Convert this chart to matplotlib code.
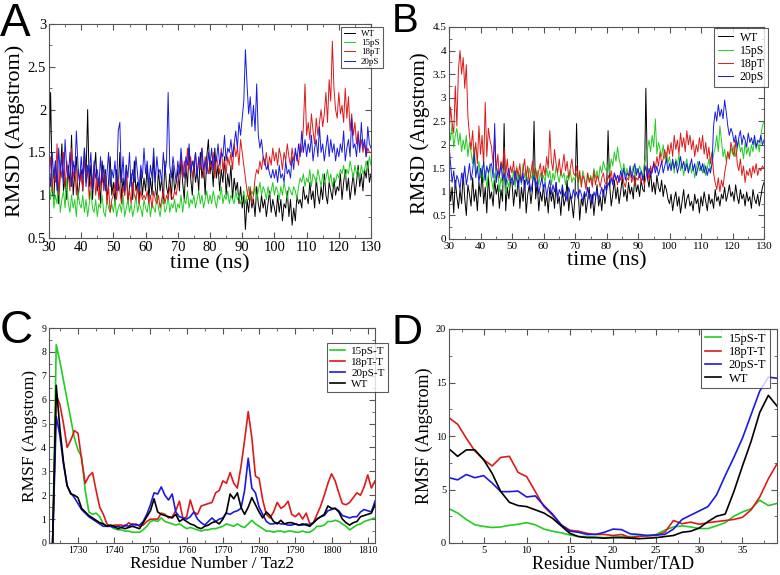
import numpy as np
import matplotlib.pyplot as plt
from matplotlib.ticker import MultipleLocator, FormatStrFormatter

# ---- panel A: RMSD vs time, Taz2 runs (0.5 ns sampling, 30..130 ns) ----
time_ns = np.arange(30, 130.25, 0.5)

a_wt = [1.30, 2.20, 1.05, 0.95, 1.40, 1.15, 0.90, 1.25, 1.60, 1.05, 1.20, 0.95, 1.35, 1.10, 1.70, 1.00, 1.25, 1.45, 0.95, 1.15,
        1.30, 1.05, 1.55, 1.20, 2.00, 1.10, 1.35, 0.95, 1.25, 1.50, 1.05, 1.20, 0.90, 1.40, 1.10, 1.30, 0.95, 1.15, 1.45, 1.00,
        1.15, 0.90, 1.30, 1.05, 1.50, 0.95, 1.20, 1.00, 1.35, 0.90, 1.10, 1.25, 0.95, 1.40, 1.05, 1.15, 0.90, 1.30, 1.00, 1.20,
        1.05, 1.35, 0.95, 1.20, 1.00, 1.45, 1.10, 0.95, 1.30, 1.05, 1.20, 0.90, 1.40, 1.10, 1.00, 1.25, 0.95, 1.35, 1.05, 1.15,
        1.30, 1.05, 1.45, 1.15, 0.95, 1.35, 1.10, 1.55, 1.20, 1.00, 1.40, 1.15, 1.30, 1.05, 1.50, 1.20, 1.35, 1.00, 1.45, 1.65,
        1.25, 1.40, 1.10, 1.55, 1.20, 1.35, 1.05, 1.30, 1.15, 1.45, 1.00, 1.25, 1.10, 1.35, 0.95, 1.20, 1.05, 1.15, 0.90, 1.10,
        0.85, 1.00, 0.60, 0.95, 0.80, 1.05, 0.85, 0.95, 0.75, 1.10, 0.90, 0.80, 1.00, 0.85, 0.95, 0.75, 0.90, 1.05, 0.80, 0.95,
        0.85, 0.75, 1.00, 0.80, 0.95, 0.70, 0.90, 0.85, 1.05, 0.75, 0.95, 0.65, 0.85, 0.70, 1.00, 0.90, 0.95, 0.85, 1.10, 0.95,
        1.00, 0.90, 1.15, 0.95, 1.05, 0.85, 1.20, 1.00, 0.90, 1.10, 0.95, 1.25, 1.00, 0.90, 1.15, 1.05, 0.95, 1.20, 1.00, 1.10,
        1.05, 1.25, 0.95, 1.15, 1.30, 1.05, 1.20, 0.95, 1.10, 1.25, 1.00, 1.15, 1.35, 1.10, 1.25, 1.05, 1.30, 1.20, 1.40, 1.15,
        1.25]
a_15ps = [1.10, 0.95, 1.25, 0.85, 1.00, 0.90, 1.15, 0.80, 0.95, 1.05, 0.85, 1.20, 0.90, 0.80, 1.00, 0.85, 0.95, 0.75, 1.05, 0.90,
          0.85, 1.00, 0.80, 0.95, 0.75, 0.90, 1.05, 0.85, 0.80, 0.95, 0.75, 0.90, 0.85, 1.00, 0.80, 0.75, 0.95, 0.85, 0.80, 0.90,
          0.80, 0.95, 0.75, 0.85, 0.90, 0.80, 1.00, 0.75, 0.85, 0.95, 0.80, 0.90, 0.75, 0.85, 1.00, 0.80, 0.90, 0.85, 0.75, 0.95,
          0.85, 0.80, 0.95, 0.75, 0.90, 0.85, 0.80, 1.00, 0.85, 0.75, 0.90, 0.95, 0.80, 0.85, 1.00, 0.80, 0.90, 0.85, 0.95, 0.80,
          0.90, 0.85, 1.00, 0.80, 0.95, 0.90, 1.05, 0.85, 0.95, 0.90, 1.00, 0.85, 0.95, 1.05, 0.90, 1.00, 0.85, 0.95, 1.05, 0.90,
          1.00, 0.90, 1.05, 0.95, 0.85, 1.00, 0.95, 1.10, 0.90, 1.00, 0.95, 1.05, 0.90, 1.00, 0.95, 0.90, 1.05, 0.95, 1.00, 0.90,
          0.95, 1.05, 0.90, 1.00, 1.10, 0.95, 1.05, 1.00, 1.10, 0.95, 1.05, 1.15, 1.00, 1.10, 1.05, 0.95, 1.10, 1.00, 1.05, 1.15,
          1.00, 1.10, 1.05, 0.95, 1.10, 1.00, 1.15, 1.05, 0.95, 1.10, 1.05, 1.00, 1.10, 1.05, 0.95, 1.10, 1.20, 1.15, 1.25, 1.10,
          1.20, 1.15, 1.30, 1.10, 1.25, 1.20, 1.15, 1.30, 1.20, 1.10, 1.25, 1.15, 1.20, 1.30, 1.15, 1.25, 1.10, 1.20, 1.15, 1.25,
          1.20, 1.30, 1.25, 1.35, 1.20, 1.30, 1.25, 1.40, 1.30, 1.20, 1.35, 1.25, 1.30, 1.20, 1.35, 1.25, 1.30, 1.40, 1.30, 1.45,
          1.35]
a_18pt = [1.20, 1.45, 1.05, 1.30, 1.15, 1.60, 1.00, 1.35, 1.20, 1.50, 1.10, 1.40, 1.25, 1.05, 1.55, 1.20, 1.35, 1.00, 1.30, 1.15,
          1.25, 1.05, 1.45, 1.15, 1.30, 0.95, 1.20, 1.10, 1.35, 1.00, 1.20, 0.95, 1.15, 1.30, 1.05, 1.25, 0.90, 1.10, 0.80, 0.95,
          1.00, 1.15, 0.95, 1.20, 1.05, 0.90, 1.10, 1.00, 1.25, 0.95, 1.05, 0.90, 1.15, 1.00, 0.95, 1.10, 0.90, 1.05, 0.95, 1.00,
          0.95, 1.05, 0.90, 1.00, 0.85, 1.05, 0.95, 0.90, 1.00, 0.85, 0.95, 1.05, 0.90, 1.00, 0.95, 1.10, 1.00, 0.95, 1.05, 1.00,
          1.15, 1.30, 1.45, 1.20, 1.40, 1.25, 1.55, 1.30, 1.45, 1.20, 1.35, 1.50, 1.25, 1.40, 1.30, 1.55, 1.20, 1.45, 1.35, 1.25,
          1.40, 1.30, 1.50, 1.20, 1.45, 1.35, 1.25, 1.55, 1.30, 1.40, 1.25, 1.45, 1.35, 1.50, 1.30, 1.60, 1.45, 1.55, 1.35, 1.65,
          1.50, 1.35, 1.20, 1.05, 0.95, 1.10, 0.90, 1.00, 1.20, 1.30, 1.25, 1.40, 1.30, 1.45, 1.35, 1.50, 1.30, 1.45, 1.35, 1.55,
          1.40, 1.50, 1.35, 1.55, 1.45, 1.30, 1.50, 1.40, 1.60, 1.45, 1.35, 1.55, 1.40, 1.50, 1.45, 1.35, 1.60, 1.50, 1.80, 2.30,
          1.70, 1.85, 1.65, 1.95, 1.75, 1.60, 1.90, 1.70, 1.85, 2.00, 1.80, 1.95, 2.20, 1.85, 2.35, 2.10, 2.80, 2.25, 2.00, 1.90,
          2.20, 1.95, 2.05, 1.85, 2.25, 1.90, 2.15, 1.75, 1.95, 1.70, 1.85, 1.60, 1.75, 1.55, 1.65, 1.50, 1.60, 1.45, 1.55, 1.50,
          1.50]
a_20ps = [1.35, 1.10, 1.50, 1.20, 1.40, 1.05, 1.55, 1.25, 1.45, 1.15, 1.65, 1.30, 1.20, 1.50, 1.10, 1.40, 1.25, 1.75, 1.35, 1.15,
          1.45, 1.20, 1.55, 1.10, 1.35, 1.25, 1.50, 1.05, 1.40, 1.20, 1.30, 1.10, 1.45, 1.15, 1.35, 1.05, 1.25, 1.50, 1.10, 1.30,
          1.20, 1.40, 1.05, 1.75, 1.85, 1.15, 1.45, 1.05, 1.35, 1.20, 1.50, 1.10, 1.30, 1.15, 1.45, 1.25, 1.05, 1.35, 1.20, 1.55,
          1.25, 1.40, 1.10, 1.35, 1.20, 1.55, 1.15, 1.45, 1.25, 1.30, 1.15, 1.50, 1.25, 1.40, 2.20, 1.35, 1.20, 1.45, 1.30, 1.15,
          1.40, 1.25, 1.55, 1.30, 1.20, 1.45, 1.35, 1.60, 1.25, 1.40, 1.30, 1.50, 1.20, 1.45, 1.35, 1.55, 1.30, 1.40, 1.25, 1.50,
          1.35, 1.55, 1.30, 1.45, 1.40, 1.60, 1.35, 1.50, 1.45, 1.70, 1.40, 1.55, 1.50, 1.65, 1.45, 1.60, 1.75, 1.55, 1.85, 1.70,
          1.90, 2.10, 2.70, 2.30, 1.95, 2.15, 1.80, 2.05, 1.75, 2.30, 1.70, 1.55, 1.65, 1.45, 1.40, 1.30, 1.35, 1.25, 1.20, 1.30,
          1.20, 1.30, 1.15, 1.35, 1.20, 1.25, 1.15, 1.40, 1.25, 1.30, 1.20, 1.45, 1.30, 1.55, 1.40, 1.60, 1.45, 1.75, 1.50, 1.65,
          1.45, 1.60, 1.50, 1.70, 1.40, 1.55, 1.65, 1.45, 1.80, 1.50, 1.60, 1.40, 1.55, 1.70, 1.45, 1.65, 1.50, 1.60, 1.40, 1.55,
          1.45, 1.60, 1.50, 1.75, 1.40, 1.55, 1.65, 1.45, 1.90, 1.55, 1.60, 1.45, 1.70, 1.50, 1.85, 1.55, 1.65, 1.45, 1.80, 1.60,
          1.55]

# ---- panel B: RMSD vs time, TAD runs ----
b_wt = [1.30, 0.80, 1.10, 0.55, 1.25, 0.90, 0.65, 1.05, 0.75, 1.40, 0.85, 0.50, 1.15, 0.95, 0.70, 1.30, 0.80, 1.05, 0.60, 1.20,
        0.90, 1.45, 0.75, 1.10, 0.55, 1.35, 0.85, 1.00, 0.70, 1.25, 0.95, 1.15, 0.65, 1.05, 0.80, 2.45, 0.60, 1.10, 0.85, 1.20,
        1.20, 0.70, 1.05, 0.90, 1.35, 0.65, 1.10, 0.80, 1.25, 0.55, 0.95, 1.15, 0.75, 1.05, 2.50, 0.85, 1.20, 0.60, 1.00, 0.80,
        1.15, 0.70, 0.95, 0.55, 1.10, 0.80, 1.00, 0.65, 1.20, 0.75, 0.90, 0.50, 1.05, 0.70, 0.85, 1.25, 0.60, 0.95, 0.75, 0.45,
        0.90, 2.45, 1.05, 0.40, 0.85, 0.70, 1.00, 0.55, 0.80, 1.10, 0.65, 0.95, 0.50, 0.85, 1.15, 0.70, 0.90, 0.60, 1.05, 0.75,
        1.00, 2.30, 1.15, 0.70, 0.95, 1.25, 0.85, 1.10, 0.75, 1.00, 1.30, 0.90, 1.05, 0.80, 1.20, 0.95, 1.10, 0.85, 1.35, 1.00,
        1.15, 0.90, 1.25, 1.05, 1.00, 3.20, 1.30, 1.10, 1.45, 1.00, 1.20, 0.95, 1.35, 1.10, 1.00, 1.25, 0.90, 1.15, 1.05, 0.85,
        0.75, 0.95, 0.60, 0.85, 1.00, 0.70, 0.90, 0.55, 0.80, 1.05, 0.65, 0.85, 0.95, 0.70, 0.80, 0.60, 0.95, 0.75, 0.85, 0.55,
        0.90, 0.70, 1.00, 0.80, 0.60, 0.95, 0.75, 0.85, 0.65, 1.05, 0.80, 0.90, 0.70, 0.95, 0.85, 1.10, 0.80, 0.95, 1.15, 0.90,
        1.00, 0.80, 1.15, 0.90, 0.75, 1.05, 0.85, 0.95, 0.70, 1.00, 0.80, 0.90, 0.65, 1.05, 0.85, 0.75, 0.95, 0.70, 0.90, 1.10,
        1.20]
b_15ps = [2.30, 2.10, 2.45, 1.95, 2.20, 2.35, 2.00, 2.25, 1.85, 2.10, 1.90, 2.20, 1.75, 2.05, 1.85, 1.60, 1.95, 1.50, 1.40, 1.65,
          1.30, 1.55, 1.20, 1.45, 1.10, 1.35, 1.60, 1.25, 1.05, 1.40, 1.20, 1.50, 1.00, 1.30, 1.15, 1.45, 0.95, 1.25, 1.10, 1.35,
          1.20, 1.45, 1.10, 1.55, 1.25, 1.40, 1.15, 1.60, 1.30, 1.45, 1.20, 1.50, 1.35, 1.25, 1.55, 1.30, 1.45, 1.15, 1.40, 1.25,
          1.35, 1.20, 1.50, 1.30, 1.45, 1.15, 1.40, 1.25, 1.55, 1.35, 1.20, 1.45, 1.30, 1.40, 1.15, 1.35, 1.25, 1.45, 1.20, 1.30,
          1.25, 1.40, 1.15, 1.35, 1.20, 1.45, 1.30, 1.10, 1.40, 1.25, 1.35, 1.20, 1.50, 1.30, 1.45, 1.25, 1.55, 1.40, 1.65, 1.50,
          1.45, 1.60, 1.40, 1.70, 1.55, 1.85, 1.65, 1.95, 1.70, 1.55, 1.40, 1.60, 1.35, 1.50, 1.30, 1.45, 1.40, 1.55, 1.35, 1.50,
          1.40, 1.55, 1.45, 1.35, 1.60, 1.75, 1.90, 2.10, 1.85, 2.20, 1.95, 2.55, 1.80, 2.05, 1.90, 1.75, 2.00, 1.70, 1.85, 1.60,
          1.75, 1.50, 1.65, 1.40, 1.70, 1.55, 1.80, 1.45, 1.60, 1.35, 1.55, 1.70, 1.45, 1.60, 1.40, 1.55, 1.30, 1.50, 1.65, 1.45,
          1.55, 1.40, 1.60, 1.35, 1.50, 1.70, 1.45, 1.60, 1.80, 1.95, 2.20, 1.85, 2.40, 2.10, 1.75, 1.90, 1.65, 1.85, 1.70, 1.95,
          1.80, 2.00, 1.75, 1.90, 2.10, 1.85, 1.95, 1.70, 2.05, 1.80, 1.95, 1.75, 2.00, 1.85, 2.10, 1.90, 2.05, 1.85, 2.20, 2.40,
          2.50]
b_18pt = [2.20, 2.80, 2.45, 2.25, 3.25, 2.40, 3.60, 4.00, 3.50, 3.85, 3.20, 3.70, 2.60, 2.20, 1.90, 2.30, 1.70, 2.05, 1.60, 2.40,
          1.80, 2.20, 1.55, 2.90, 1.75, 2.35, 2.10, 1.95, 1.60, 2.15, 1.45, 1.80, 1.30, 1.65, 1.50, 1.95, 1.35, 1.70, 1.25, 1.55,
          1.40, 1.65, 1.25, 1.50, 1.35, 1.60, 1.20, 1.45, 1.70, 1.30, 1.55, 1.20, 1.40, 1.65, 1.35, 1.50, 1.25, 1.45, 1.60, 1.30,
          1.55, 1.35, 1.75, 1.50, 2.30, 1.65, 1.45, 1.90, 1.60, 1.40, 1.70, 1.35, 1.55, 1.80, 1.45, 1.65, 1.30, 1.50, 1.70, 1.40,
          1.35, 1.55, 1.20, 1.45, 1.10, 1.35, 1.25, 1.05, 1.40, 1.20, 1.30, 1.10, 1.45, 1.15, 1.35, 1.25, 1.10, 1.30, 1.40, 1.20,
          1.15, 1.35, 1.25, 1.45, 1.20, 1.40, 1.30, 1.15, 1.35, 1.25, 1.40, 1.20, 1.10, 1.30, 1.25, 1.45, 1.20, 1.35, 1.15, 1.30,
          1.25, 1.40, 1.20, 1.35, 1.15, 1.30, 1.45, 1.25, 1.55, 1.40, 1.65, 1.50, 1.75, 1.55, 1.85, 1.60, 1.70, 1.90, 1.65, 2.00,
          1.80, 2.05, 1.75, 2.20, 1.90, 2.10, 1.80, 2.25, 1.95, 2.15, 1.85, 2.30, 2.00, 2.20, 1.90, 2.10, 1.75, 2.00, 1.85, 2.15,
          1.90, 2.20, 1.80, 2.05, 1.70, 1.95, 1.60, 1.85, 1.40, 1.20, 1.05, 1.30, 1.00, 1.25, 1.10, 1.40, 1.60, 1.85, 1.70, 2.05,
          1.90, 1.75, 2.10, 1.60, 1.45, 1.70, 1.35, 1.55, 1.20, 1.45, 1.35, 1.50, 1.30, 1.55, 1.40, 1.60, 1.35, 1.50, 1.45, 1.55,
          1.50]
b_20ps = [2.00, 1.60, 1.20, 1.45, 1.10, 1.35, 1.25, 1.05, 1.40, 1.20, 1.55, 1.15, 1.35, 1.60, 1.25, 1.45, 1.80, 1.30, 1.55, 1.20,
          1.50, 1.35, 1.65, 1.25, 1.55, 1.40, 1.55, 1.60, 1.30, 2.45, 1.20, 1.45, 1.35, 1.60, 1.25, 1.40, 1.15, 1.35, 1.50, 1.20,
          1.30, 1.15, 1.45, 1.25, 1.10, 1.35, 1.20, 1.40, 1.05, 1.30, 1.15, 1.25, 1.00, 1.20, 1.35, 1.10, 1.25, 0.95, 1.15, 1.30,
          1.05, 1.20, 0.90, 1.10, 1.25, 0.95, 1.15, 1.00, 1.20, 0.85, 1.05, 0.95, 1.15, 0.90, 1.00, 0.80, 1.10, 0.95, 0.85, 1.05,
          0.90, 1.00, 0.85, 1.05, 0.95, 0.80, 1.00, 0.90, 1.10, 0.85, 0.95, 0.75, 1.00, 0.90, 1.05, 0.85, 0.95, 1.10, 0.90, 1.15,
          1.00, 1.20, 1.10, 1.30, 1.15, 1.40, 1.25, 1.35, 1.20, 1.45, 1.30, 1.50, 1.25, 1.40, 1.35, 1.55, 1.30, 1.45, 1.60, 1.35,
          1.50, 1.30, 1.45, 1.25, 1.40, 1.55, 1.30, 1.50, 1.35, 1.45, 1.60, 1.40, 1.55, 1.35, 1.50, 1.65, 1.40, 1.55, 1.70, 1.45,
          1.60, 1.45, 1.70, 1.50, 1.65, 1.40, 1.55, 1.75, 1.50, 1.65, 1.45, 1.60, 1.40, 1.55, 1.70, 1.45, 1.60, 1.35, 1.50, 1.65,
          1.45, 1.60, 1.40, 1.55, 1.35, 1.50, 1.40, 1.60, 2.40, 2.70, 2.50, 2.85, 2.60, 2.75, 2.55, 2.95, 2.70, 2.40, 2.20, 2.35,
          2.25, 2.05, 2.20, 1.95, 2.15, 2.30, 2.00, 2.20, 2.10, 1.95, 2.25, 2.05, 2.15, 2.00, 2.20, 1.95, 2.10, 2.05, 2.20, 2.00,
          2.10]

# ---- panel C: RMSF per residue, Taz2 ----
taz2_res = np.arange(1723, 1813)
c_15ps = [0.0, 8.3, 7.6, 6.8, 6.0, 5.2, 4.4, 3.9, 3.6, 2.2, 1.3, 1.2, 1.25, 1.1, 0.8, 0.7, 0.7, 0.6, 0.55, 0.55,
          0.5, 0.5, 0.45, 0.45, 0.45, 0.55, 0.7, 0.9, 0.95, 0.9, 1.05, 0.9, 0.85, 0.8, 0.75, 0.8, 0.7, 0.6, 0.65, 0.6,
          0.55, 0.5, 0.55, 0.55, 0.6, 0.6, 0.65, 0.7, 0.8, 0.75, 0.7, 0.8, 0.7, 0.65, 0.8, 0.95, 0.8, 0.7, 0.6, 0.5,
          0.5, 0.45, 0.5, 0.5, 0.45, 0.5, 0.5, 0.45, 0.45, 0.5, 0.45, 0.45, 0.55, 0.7, 0.7, 0.75, 0.9, 0.9, 0.95, 0.9,
          0.8, 0.7, 0.55, 0.65, 0.75, 0.8, 0.9, 0.95, 1.0, 1.05]
c_18pt = [0.0, 6.2, 5.8, 5.0, 4.0, 4.3, 4.7, 4.6, 3.5, 2.5, 2.8, 2.95, 2.2, 1.5, 1.2, 0.8, 0.7, 0.75, 0.75, 0.75,
          0.7, 0.85, 0.75, 0.8, 0.7, 0.75, 0.9, 1.0, 1.0, 1.0, 1.25, 1.2, 1.05, 1.1, 1.35, 1.75, 1.0, 1.1, 1.8, 1.3,
          1.2, 1.55, 1.6, 1.65, 1.7, 2.1, 2.2, 2.6, 2.5, 2.95, 2.5, 2.3, 3.2, 4.3, 5.5, 4.4, 2.8, 2.7, 1.8, 1.2,
          1.05, 1.3, 1.7, 1.45, 1.55, 1.75, 1.2, 1.1, 1.25, 1.0, 1.25, 0.8, 0.85, 1.2, 1.55, 2.0, 2.5, 2.9, 2.6, 2.1,
          1.65, 1.6, 1.7, 1.9, 2.1, 2.0, 2.35, 2.85, 2.3, 2.6]
c_20ps = [0.0, 5.3, 4.5, 3.3, 2.4, 2.1, 1.9, 1.65, 1.4, 1.25, 1.1, 1.0, 0.9, 0.8, 0.7, 0.7, 0.7, 0.65, 0.7, 0.65,
          0.75, 0.7, 0.8, 0.75, 0.75, 0.9, 1.2, 1.6, 2.1, 2.05, 2.35, 2.0, 1.8, 2.05, 1.3, 1.1, 1.05, 1.0, 1.1, 1.3,
          1.0, 0.85, 0.75, 0.9, 1.05, 0.9, 1.0, 1.05, 1.25, 1.2, 1.3, 1.35, 1.45, 2.2, 3.55, 2.3, 2.1, 1.5, 1.2, 0.9,
          0.8, 0.8, 0.85, 0.8, 0.8, 0.75, 0.75, 0.8, 0.75, 0.75, 0.8, 0.75, 0.85, 1.0, 1.1, 1.15, 1.35, 1.4, 1.45, 1.35,
          1.15, 1.1, 1.05, 1.1, 1.1, 1.3, 1.4, 1.35, 1.3, 1.75]
c_wt = [0.0, 6.6, 4.8, 3.4, 2.4, 2.05, 2.0, 1.9, 1.45, 1.3, 1.15, 1.05, 0.95, 0.85, 0.8, 0.7, 0.75, 0.7, 0.6, 0.65,
        0.6, 0.65, 0.7, 0.65, 0.6, 0.85, 1.1, 1.35, 1.85, 1.3, 1.2, 1.15, 1.1, 1.05, 1.2, 0.9, 1.0, 0.9, 0.8, 0.75,
        0.65, 0.6, 0.7, 0.75, 0.85, 0.9, 0.8, 1.0, 1.3, 2.05, 1.85, 2.1, 1.5, 1.2, 1.5, 1.9, 1.6, 1.3, 1.05, 1.3,
        1.15, 0.9, 0.8, 0.95, 0.8, 0.85, 0.85, 0.8, 0.75, 0.8, 0.75, 0.7, 0.85, 1.0, 1.1, 1.2, 1.55, 1.45, 1.45, 1.3,
        1.0, 0.85, 0.75, 0.85, 0.9, 1.1, 1.15, 1.2, 1.25, 1.6]

# ---- panel D: RMSF per residue, TAD ----
tad_res = np.arange(1, 40)
d_15ps = [3.2, 2.8, 2.2, 1.7, 1.55, 1.45, 1.5, 1.65, 1.75, 1.9, 1.7, 1.3, 1.1, 0.95, 0.75, 0.6, 0.6, 0.55, 0.5, 0.55,
          0.6, 0.6, 0.65, 0.65, 0.8, 1.2, 1.5, 1.6, 1.5, 1.35, 1.35, 1.6, 1.9, 2.5, 2.9, 3.2, 4.0, 3.5, 3.7]
d_18pt = [11.7, 11.1, 9.8, 8.6, 7.8, 7.2, 8.0, 8.1, 6.6, 6.2, 4.8, 3.4, 2.6, 1.7, 1.2, 1.1, 0.9, 0.8, 0.8, 0.7,
          0.8, 0.5, 0.6, 0.7, 0.7, 1.0, 2.1, 1.8, 1.95, 1.75, 1.9, 2.0, 2.1, 2.2, 2.4, 3.1, 4.3, 6.0, 7.4]
d_20ps = [6.1, 5.9, 6.4, 6.1, 6.3, 5.6, 4.8, 4.8, 4.85, 4.3, 4.4, 3.5, 2.7, 1.7, 1.1, 1.0, 0.8, 0.8, 1.0, 1.3,
          1.25, 0.85, 0.8, 0.7, 0.75, 0.8, 1.3, 2.2, 2.6, 3.0, 3.4, 4.5, 6.3, 8.0, 9.8, 12.0, 14.2, 15.5, 15.4]
d_wt = [8.8, 8.1, 8.7, 8.7, 7.8, 6.5, 4.8, 3.8, 3.5, 3.4, 3.1, 2.8, 2.3, 1.6, 0.9, 0.6, 0.5, 0.5, 0.45, 0.5,
        0.5, 0.45, 0.4, 0.45, 0.5, 0.6, 0.7, 1.0, 1.1, 1.4, 2.0, 2.5, 2.7, 4.8, 7.2, 9.5, 12.2, 13.8, 12.8]

GREEN = '#22cc22'
RED = '#dd1a1a'
BLUE = '#1a1ae0'
FRAME = '#555555'
SERIF = 'Liberation Serif'


def style_axes(ax, xmaj, xmin, ymaj, ymin, tick_size):
    ax.xaxis.set_major_locator(MultipleLocator(xmaj))
    ax.xaxis.set_minor_locator(MultipleLocator(xmin))
    ax.yaxis.set_major_locator(MultipleLocator(ymaj))
    ax.yaxis.set_minor_locator(MultipleLocator(ymin))
    # grace-style labels: "1", "1.5", no trailing zeros
    ax.xaxis.set_major_formatter(FormatStrFormatter('%g'))
    ax.yaxis.set_major_formatter(FormatStrFormatter('%g'))
    ax.tick_params(which='both', direction='in', top=True, right=True,
                   color=FRAME, labelsize=tick_size, pad=2)
    ax.tick_params(which='major', length=4, width=0.8)
    ax.tick_params(which='minor', length=2, width=0.6)
    for lab in ax.get_xticklabels() + ax.get_yticklabels():
        lab.set_fontfamily(SERIF)
    for sp in ax.spines.values():
        sp.set_color(FRAME)
        sp.set_linewidth(0.8)


def add_legend(ax, anchor, size):
    leg = ax.legend(loc='upper left', bbox_to_anchor=anchor, bbox_transform=fig.transFigure,
                    prop={'family': SERIF, 'size': size}, frameon=True, fancybox=False,
                    handlelength=1.3, handletextpad=0.6, borderpad=0.3, labelspacing=0.1,
                    borderaxespad=0)
    leg.get_frame().set_edgecolor('#333333')
    leg.get_frame().set_linewidth(0.8)


fig = plt.figure(figsize=(7.8, 5.75), dpi=100)

# A
axA = fig.add_axes([49 / 780, 1 - 238 / 575, 322 / 780, 214 / 575])
axA.plot(time_ns, a_wt, color='black', lw=0.7, label='WT')
axA.plot(time_ns, a_15ps, color=GREEN, lw=0.7, label='15pS')
axA.plot(time_ns, a_18pt, color=RED, lw=0.7, label='18pT')
axA.plot(time_ns, a_20ps, color=BLUE, lw=0.7, label='20pS')
axA.set_xlim(30, 130)
axA.set_ylim(0.5, 3)
style_axes(axA, 10, 5, 0.5, 0.25, 10.5)
axA.set_xlabel('time (ns)', fontfamily=SERIF, fontsize=16, labelpad=0)
axA.set_ylabel('RMSD (Angstrom)', fontfamily=SERIF, fontsize=16, labelpad=2)
add_legend(axA, (341 / 780, 1 - 27 / 575), 6.5)

# B
axB = fig.add_axes([449 / 780, 1 - 239 / 575, 315 / 780, 212 / 575])
axB.plot(time_ns, b_wt, color='black', lw=0.7, label='WT')
axB.plot(time_ns, b_15ps, color=GREEN, lw=0.7, label='15pS')
axB.plot(time_ns, b_18pt, color=RED, lw=0.7, label='18pT')
axB.plot(time_ns, b_20ps, color=BLUE, lw=0.7, label='20pS')
axB.set_xlim(30, 130)
axB.set_ylim(0, 4.5)
style_axes(axB, 10, 5, 0.5, 0.25, 8)
axB.set_xlabel('time (ns)', fontfamily=SERIF, fontsize=16, labelpad=0)
axB.set_ylabel('RMSD (Angstrom)', fontfamily=SERIF, fontsize=15, labelpad=2)
add_legend(axB, (714 / 780, 1 - 28 / 575), 8.5)

# C
axC = fig.add_axes([49 / 780, 1 - 543 / 575, 326 / 780, 215 / 575])
axC.plot(taz2_res, c_15ps, color=GREEN, lw=1.2, label='15pS-T')
axC.plot(taz2_res, c_18pt, color=RED, lw=1.2, label='18pT-T')
axC.plot(taz2_res, c_20ps, color=BLUE, lw=1.2, label='20pS-T')
axC.plot(taz2_res, c_wt, color='black', lw=1.2, label='WT')
axC.set_xlim(1722, 1812)
axC.set_ylim(0, 9)
style_axes(axC, 10, 5, 1, 0.5, 7)
axC.set_xlabel('Residue Number / Taz2', fontfamily=SERIF, fontsize=12.5, labelpad=1)
axC.set_ylabel('RMSF (Angstrom)', fontfamily=SERIF, fontsize=12.5, labelpad=2)
add_legend(axC, (327 / 780, 1 - 343 / 575), 8)

# D
axD = fig.add_axes([449 / 780, 1 - 543 / 575, 328 / 780, 214 / 575])
axD.plot(tad_res, d_15ps, color=GREEN, lw=1.2, label='15pS-T')
axD.plot(tad_res, d_18pt, color=RED, lw=1.2, label='18pT-T')
axD.plot(tad_res, d_20ps, color=BLUE, lw=1.2, label='20pS-T')
axD.plot(tad_res, d_wt, color='black', lw=1.2, label='WT')
axD.set_xlim(1, 39)
axD.set_ylim(0, 20)
style_axes(axD, 5, 2.5, 5, 2.5, 7.5)
axD.set_xlabel('Residue Number/TAD', fontfamily=SERIF, fontsize=13, labelpad=1)
axD.set_ylabel('RMSF (Angstrom)', fontfamily=SERIF, fontsize=13, labelpad=2)
add_legend(axD, (701 / 780, 1 - 329 / 575), 9)

# panel letters
for letter, x, y, size in [('A', 0.0, 0.997, 33), ('B', 0.502, 0.997, 29),
                           ('C', 0.0, 0.462, 33), ('D', 0.502, 0.456, 31)]:
    fig.text(x, y, letter, fontfamily='Liberation Sans', fontsize=size, va='top', ha='left')

fig.savefig('out.png', dpi=100, facecolor='white')
